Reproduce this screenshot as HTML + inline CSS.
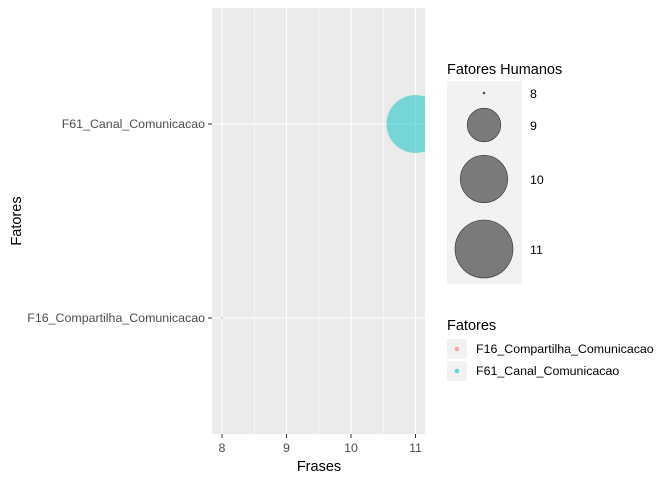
<!DOCTYPE html>
<html><head><meta charset="utf-8"><style>
body{margin:0;background:#fff;font-family:"Liberation Sans",Arial,sans-serif}
svg text{font-family:"Liberation Sans",Arial,sans-serif}
</style></head><body>
<svg id="c" width="672" height="480" viewBox="0 0 672 480" xmlns="http://www.w3.org/2000/svg">
<defs><clipPath id="pc"><rect x="212" y="8" width="213" height="426"/></clipPath></defs>
<rect x="212" y="8" width="213" height="426" fill="#EBEBEB"/>
<g id="grid"></g>
<g id="marks" clip-path="url(#pc)"></g>
<g id="axes"></g>
<text x="319" y="471" font-size="14.5" text-anchor="middle" fill="#000">Frases</text>
<text transform="translate(21,221) rotate(-90)" font-size="14.5" text-anchor="middle" fill="#000">Fatores</text>
<text x="447" y="74" font-size="14.5" fill="#000">Fatores Humanos</text>
<rect x="447" y="81" width="75" height="203" fill="#F2F2F2"/>
<g id="sizeLeg"></g>
<text x="447" y="330" font-size="14.5" fill="#000">Fatores</text>
<g id="colLeg"></g>
</svg>
<script>
const categories = ["F16_Compartilha_Comunicacao", "F61_Canal_Comunicacao"];
const frases = [8, 11];
const humanos = [8, 11];
const colors = ["#F8766D", "#00BFC4"];
const xTicks = [8, 9, 10, 11];
const sizeBreaks = [8, 9, 10, 11];

const NS = "http://www.w3.org/2000/svg";
function mk(tag, attrs, parent){const e=document.createElementNS(NS,tag);for(const k in attrs)e.setAttribute(k,attrs[k]);parent.appendChild(e);return e;}
const x = v => 222 + (v - 8) * 64.5;
const yIdx = i => 318 - i * 194;
const sMin = Math.min(...humanos), sMax = Math.max(...humanos);
const r = v => { const t = (v - sMin) / (sMax - sMin); return Math.sqrt(1 + t * (29*29 - 1)); };

const grid = document.getElementById('grid');
for (let i = 0; i < xTicks.length - 1; i++) {
  const m = (xTicks[i] + xTicks[i+1]) / 2;
  const l = mk('line', {x1:x(m), x2:x(m), y1:8, y2:434, stroke:'#fff', 'stroke-width':0.6}, grid);
  
  
}
xTicks.forEach(t => {
  const l = mk('line', {x1:x(t), x2:x(t), y1:8, y2:434, stroke:'#fff', 'stroke-width':1.1}, grid);
  
  
});
categories.forEach((c, i) => {
  const l = mk('line', {x1:212, x2:425, y1:yIdx(i), y2:yIdx(i), stroke:'#fff', 'stroke-width':1.1}, grid);
  
  
});

const axes = document.getElementById('axes');
xTicks.forEach(t => {
  mk('line', {x1:x(t), x2:x(t), y1:434, y2:438, stroke:'#333', 'stroke-width':1}, axes);
  const tx = mk('text', {x:x(t), y:452, 'font-size':12.4, fill:'#4D4D4D', 'text-anchor':'middle'}, axes);
  tx.textContent = t;
  
  
});
categories.forEach((c, i) => {
  mk('line', {x1:208, x2:212, y1:yIdx(i), y2:yIdx(i), stroke:'#333', 'stroke-width':1}, axes);
  const tx = mk('text', {x:205, y:yIdx(i)+4, 'font-size':12.4, fill:'#4D4D4D', 'text-anchor':'end'}, axes);
  tx.textContent = c;
  
  
});

const marks = document.getElementById('marks');
categories.forEach((c, i) => {
  const p = mk('circle', {cx:x(frases[i]), cy:yIdx(i), r:r(humanos[i]), fill:colors[i], 'fill-opacity':0.5}, marks);
  
  
});

const sl = document.getElementById('sizeLeg');
const ly = [93, 125, 179, 249];
sizeBreaks.forEach((b, i) => {
  const cc = mk('circle', {cx:484, cy:ly[i], r:r(b), fill:'#7a7a7a', stroke:'#333', 'stroke-width':0.6}, sl);
  
  
  const tx = mk('text', {x:530, y:ly[i]+5, 'font-size':12.4, fill:'#000'}, sl);
  tx.textContent = b;
  
  
});

const cl = document.getElementById('colLeg');
categories.forEach((c, i) => {
  const yy = 349 + i * 22;
  const bg = mk('rect', {x:447, y:yy-10, width:20, height:20, fill:'#F2F2F2'}, cl);
  
  
  const cc = mk('circle', {cx:457, cy:yy, r:2.3, fill:colors[i], 'fill-opacity':0.6}, cl);
  
  
  const tx = mk('text', {x:476, y:yy+4, 'font-size':12.4, fill:'#000'}, cl);
  tx.textContent = c;
  
  
});
</script>
</body></html>
